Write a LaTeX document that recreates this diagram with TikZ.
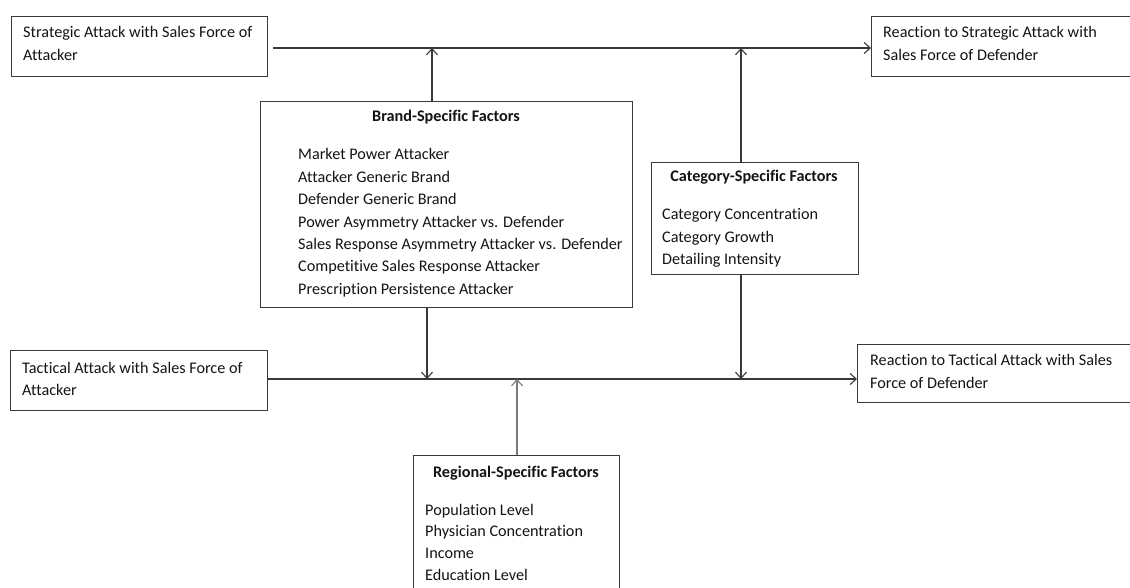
\documentclass[tikz,border=0pt]{standalone}
\usepackage{fontspec}
\setmainfont{Carlito}[Ligatures={NoCommon}]
\usetikzlibrary{arrows.meta}
\definecolor{boxgray}{HTML}{3A3A3A}
\definecolor{linegray}{HTML}{3A3A3A}
\definecolor{lightline}{HTML}{7A7A7A}
\definecolor{txtcol}{HTML}{141414}
\begin{document}
\begin{tikzpicture}[x=1pt,y=-1pt,
  box/.style={draw=boxgray, line width=1.1pt, inner sep=0pt, anchor=north west},
  txt/.style={inner sep=0pt, anchor=base west, text=txtcol, font=\fontsize{16.2}{19}\selectfont},
  ttl/.style={inner sep=0pt, anchor=base, text=txtcol, font=\fontsize{16.2}{19}\selectfont\bfseries},
  conn/.style={draw=linegray, line width=1.1pt},
  arr/.style={conn, -{Straight Barb[length=6pt,width=11pt]}},
]
\clip (0,0) rectangle (1130,588);
\fill[white] (0,0) rectangle (1130,588);

% outcome / input boxes
\node[box, minimum width=256pt, minimum height=60pt] (s1) at (11,16) {};
\node[txt] (s1a) at (23,38) {Strategic Attack with Sales Force of};
\node[txt] (s1b) at (23,61) {Attacker};

\node[box, minimum width=280pt, minimum height=60pt] (r1) at (871,16) {};
\node[txt] (r1a) at (883,38) {Reaction to Strategic Attack with};
\node[txt] (r1b) at (883,61) {Sales Force of Defender};

\node[box, minimum width=257pt, minimum height=60pt] (s3) at (10,350) {};
\node[txt] (s3a) at (22,373) {Tactical Attack with Sales Force of};
\node[txt] (s3b) at (22,395) {Attacker};

\node[box, minimum width=290pt, minimum height=58pt] (r2) at (857,344) {};
\node[txt] (r2a) at (870,365) {Reaction to Tactical Attack with Sales};
\node[txt] (r2b) at (870,388) {Force of Defender};

% brand-specific
\node[box, minimum width=372pt, minimum height=206pt] (b) at (260,101) {};
\node[ttl] (bt) at (446,122) {Brand-Specific Factors};
\foreach \t [count=\i from 0] in {Market Power Attacker, Attacker Generic Brand, Defender Generic Brand, Power Asymmetry Attacker vs. Defender, Sales Response Asymmetry Attacker vs. Defender, Competitive Sales Response Attacker, Prescription Persistence Attacker}
  \node[txt] (bi\i) at (298,160+22.4*\i) {\t};

% category-specific
\node[box, minimum width=207pt, minimum height=112pt] (c) at (651,162) {};
\node[ttl] (ct) at (754,182) {Category-Specific Factors};
\foreach \t [count=\i from 0] in {Category Concentration, Category Growth, Detailing Intensity}
  \node[txt] (ci\i) at (662,220+22.5*\i) {\t};

% regional-specific
\node[box, minimum width=206pt, minimum height=150pt] (g) at (413,455) {};
\node[ttl] (gt) at (516,477) {Regional-Specific Factors};
\foreach \t [count=\i from 0] in {Population Level, Physician Concentration, Income, Education Level}
  \node[txt] (gi\i) at (425,515+21.7*\i) {\t};

% connectors
\coordinate (tl) at (273,48);
\coordinate (j1) at (432,48);
\coordinate (j2) at (741,48);
\draw[arr] (tl) -- (tl -| r1.west);
\draw[arr] (b.north -| j1) -- (j1);
\draw[arr] (c.north -| j2) -- (j2);

\coordinate (bl) at (267,379);
\coordinate (k1) at (427,379);
\coordinate (k2) at (517,379);
\coordinate (k3) at (741,379);
\draw[arr] (s3.east |- bl) -- (bl -| r2.west);
\draw[arr] (b.south -| k1) -- (k1);
\draw[arr, draw=lightline] (g.north -| k2) -- (k2);
\draw[arr] (c.south -| k3) -- (k3);
\end{tikzpicture}
\end{document}
